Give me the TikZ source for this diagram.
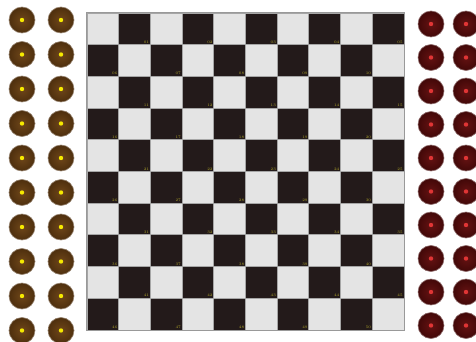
\documentclass[tikz,border=0pt]{standalone}
\usepackage{tikz}
\usetikzlibrary{calc}
\definecolor{sqlight}{HTML}{E4E4E4}
\definecolor{sqdark}{HTML}{231A1A}
\definecolor{sqnumcol}{HTML}{B0A62A}
\definecolor{browninner}{HTML}{6E4619}
\definecolor{brownouter}{HTML}{4E2F0E}
\definecolor{redinner}{HTML}{641212}
\definecolor{redouter}{HTML}{420808}
\definecolor{yellowdot}{HTML}{F6EA00}
\definecolor{reddot}{HTML}{E03535}

\begin{document}
\begin{tikzpicture}[x=1pt, y=-1pt]
	\tikzset{lightsq/.style={draw=gray!70, line width=0.9pt, fill=sqlight, minimum size=31.7pt, inner sep=0pt},
		darksq/.style={lightsq, fill=sqdark},
		sqnum/.style={font=\fontsize{3.8}{3.8}\selectfont, text=sqnumcol, inner sep=0.8pt, anchor=south east},
		brownman/.style={circle, minimum size=26pt, inner sep=0pt, draw=brownouter!60, line width=0.6pt, inner color=browninner, outer color=brownouter},
		redman/.style={circle, minimum size=26pt, inner sep=0pt, draw=redouter!60, line width=0.6pt, inner color=redinner, outer color=redouter},
		dot/.style={circle, minimum size=4.4pt, inner sep=0pt}}
	\useasboundingbox (0,0) rectangle (476,342);
	% board, 10 x 10, dark squares numbered 01 to 50
	\foreach \r in {1,...,10}{
		\foreach \c in {1,...,10}{
			\pgfmathtruncatemacro\odd{mod(\r+\c,2)}
			\ifnum\odd=0
				\node[lightsq] (sq-\r-\c) at ({87+31.7*(\c-0.5)},{13+31.7*(\r-0.5)}) {};
			\else
				\pgfmathtruncatemacro\num{5*(\r-1)+int((\c+1)/2)}
				\node[darksq] (sq-\r-\c) at ({87+31.7*(\c-0.5)},{13+31.7*(\r-0.5)}) {};
				\node[sqnum] (num-\num) at ($(sq-\r-\c.south east)+(-0.8,-0.8)$) {\ifnum\num<10 0\fi\num};
			\fi
		}
	}
	\draw[gray!80, line width=1.2pt] (sq-1-1.north west) rectangle (sq-10-10.south east);
	% men waiting left and right of the board
	\foreach \i in {1,...,10}{
		\node[brownman] (wl-\i) at (22,{20+34.5*(\i-1)}) {};
		\node[dot, fill=yellowdot] (wldot-\i) at (wl-\i) {};
		\node[brownman] (wr-\i) at (61,{20+34.5*(\i-1)}) {};
		\node[dot, fill=yellowdot] (wrdot-\i) at (wr-\i) {};
		\node[redman] (bl-\i) at (431,{24+33.5*(\i-1)}) {};
		\node[dot, fill=reddot] (bldot-\i) at (bl-\i) {};
		\node[redman] (br-\i) at (466,{24+33.5*(\i-1)}) {};
		\node[dot, fill=reddot] (brdot-\i) at (br-\i) {};
	}
\end{tikzpicture}
\end{document}
